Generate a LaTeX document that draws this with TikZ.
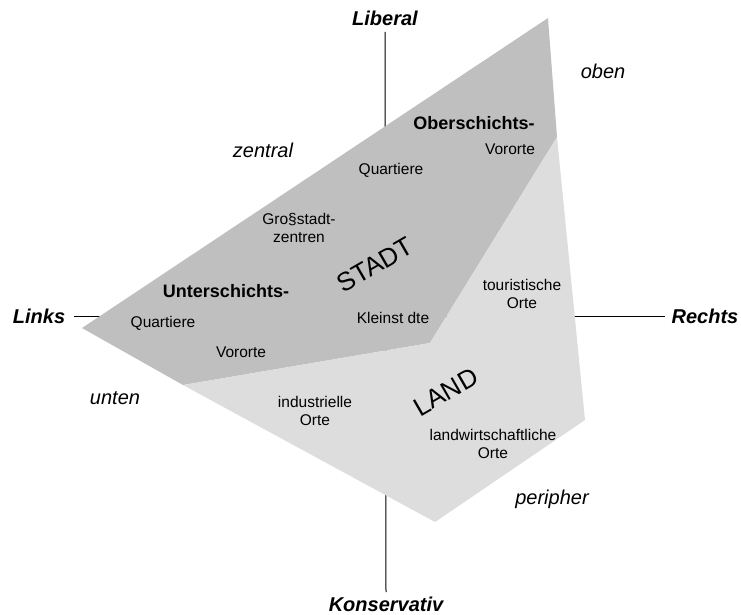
\documentclass[tikz,border=0pt]{standalone}
\usepackage{fontspec}
\setmainfont{Liberation Sans}
\definecolor{stadtgrau}{gray}{0.75}
\definecolor{landgrau}{gray}{0.865}

\begin{document}
\begin{tikzpicture}[x=1pt,y=-1pt,
    ort/.style={align=center,inner sep=1pt,font=\fontsize{15.5}{18}\selectfont},
    schicht/.style={inner sep=1pt,font=\fontsize{18}{20}\selectfont\bfseries},
    pol/.style={font=\fontsize{20}{24}\selectfont\itshape},
    achse/.style={font=\fontsize{20}{24}\selectfont\bfseries\itshape},
    gebiet/.style={inner sep=0pt,font=\fontsize{26}{30}\selectfont,rotate=30}]

    \useasboundingbox (0,0) rectangle (741,614);

    % Achsen
    \node[achse] (lib)    at (385,18)  {Liberal};
    \node[achse] (kon)    at (386,604) {Konservativ};
    \node[achse] (links)  at (39,316)  {Links};
    \node[achse] (rechts) at (705,316) {Rechts};

    \draw[line width=1pt,shorten <=3pt,shorten >=1pt] (lib.south) -- (kon.north);
    \draw[line width=1pt,shorten <=5pt,shorten >=3pt] (links.east) -- (rechts.west);

    % Flaechen
    \coordinate (o)     at (548,18);
    \coordinate (or)    at (557,137);
    \coordinate (r)     at (585,420);
    \coordinate (u)     at (435,522);
    \coordinate (ul)    at (183,385);
    \coordinate (l)     at (82,328);
    \coordinate (knick) at (430,343);

    \fill[stadtgrau] (o) -- (or) -- (knick) -- (ul) -- (l) -- cycle;
    \fill[landgrau]  (or) -- (r) -- (u) -- (ul) -- (knick) -- cycle;

    % Pole
    \node[pol] (oben)     at (603,71)  {oben};
    \node[pol] (zentral)  at (263,150) {zentral};
    \node[pol] (unten)    at (115,398) {unten};
    \node[pol] (peripher) at (552,499) {peripher};

    % Stadt
    \node[gebiet] (stadt) at (375,265) {STADT};
    \node[schicht] (ober)   at (474,123) {Oberschichts-};
    \node[ort] (vor1)   at (510,149) {Vororte};
    \node[ort] (quar1)  at (391,170) {Quartiere};
    \node[ort] (gross)  at (299,228) {Gro§stadt-\\zentren};
    \node[schicht] (unter)  at (226,291) {Unterschichts-};
    \node[ort] (quar2)  at (163,323) {Quartiere};
    \node[ort] (klein)  at (393,318) {Kleinst dte};
    \node[ort] (vor2)   at (241,352) {Vororte};

    % Land
    \node[gebiet] (land) at (446,392) {LAND};
    \node[ort] (tour)   at (522,294) {touristische\\Orte};
    \node[ort] (indu)   at (315,411) {industrielle\\Orte};
    \node[ort] (lawi)   at (493,444) {landwirtschaftliche\\Orte};
\end{tikzpicture}
\end{document}
